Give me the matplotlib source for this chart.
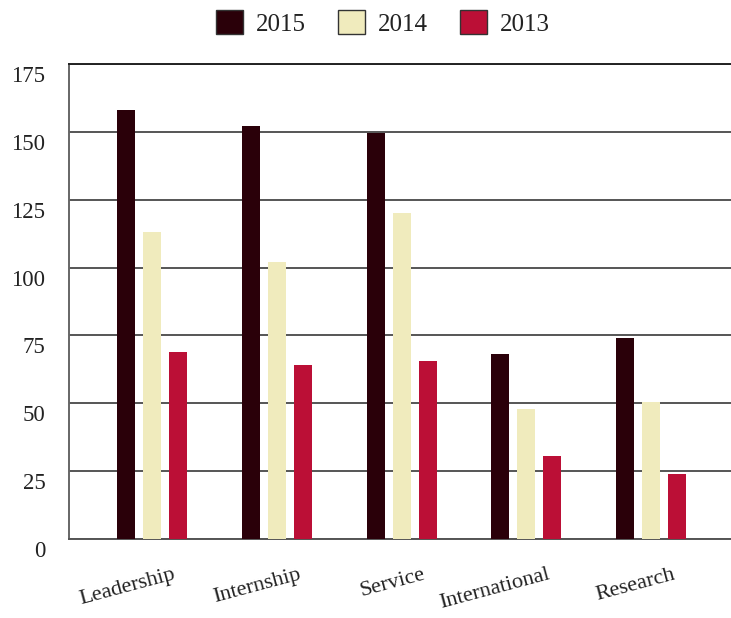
import matplotlib
matplotlib.use("Agg")
import matplotlib.pyplot as plt
import matplotlib.transforms as mtrans
import numpy as np

categories = ["Leadership", "Internship", "Service", "International", "Research"]
series_names = ["2015", "2014", "2013"]
v2015 = [158, 152, 149.5, 68, 74]
v2014 = [113, 102, 120, 48, 50.5]
v2013 = [69, 64, 65.5, 30.5, 24]
colors = ["#2a0009", "#f0ebbd", "#bb0f36"]
yticks = [0, 25, 50, 75, 100, 125, 150, 175]

plt.rcParams['font.family'] = ['Liberation Serif', 'DejaVu Serif']

fig = plt.figure(figsize=(7.31, 6.18), dpi=100)
ax = fig.add_axes([69/731, 79/618, 1 - 69/731, 475/618])

x = np.arange(len(categories))
w = 0.144
off = 0.208
for i, (vals, name, c) in enumerate(zip([v2015, v2014, v2013], series_names, colors)):
    ax.bar(x + (i - 1) * off, vals, width=w, color=c, label=name, zorder=3)

ax.set_ylim(0, 175)
ax.set_xlim(-0.665, 4.64)
ax.set_yticks(yticks)
ax.yaxis.grid(True, color="#555555", linewidth=1.4, zorder=0)
ax.set_axisbelow(True)
ax.tick_params(axis='y', length=0, pad=17, labelsize=16.5, labelcolor="#222222")
ax.tick_params(axis='x', length=0, pad=19, labelsize=16, labelcolor="#222222")
ax.set_xticks(x)
ax.set_xticklabels(categories, rotation=15, ha='right', va='top')
for lab in ax.get_xticklabels():
    lab.set_transform(lab.get_transform() + mtrans.ScaledTranslation(26/100, 0, fig.dpi_scale_trans))
for lab in ax.get_yticklabels():
    lab.set_transform(lab.get_transform() + mtrans.ScaledTranslation(0, -10/100, fig.dpi_scale_trans))

ax.spines['right'].set_visible(False)
ax.spines['top'].set_color("#222222")
ax.spines['top'].set_linewidth(1.4)
ax.spines['left'].set_color("#666666")
ax.spines['left'].set_linewidth(1.4)
ax.spines['bottom'].set_color("#555555")
ax.spines['bottom'].set_linewidth(1.4)

leg = fig.legend(loc='center', bbox_to_anchor=(383/731, 1 - 23/618), ncol=3, frameon=False,
                 fontsize=18, handlelength=1.08, handleheight=1.08, handletextpad=0.5,
                 columnspacing=1.3, labelcolor="#222222")
for h in leg.legend_handles:
    h.set_edgecolor("#333333")
    h.set_linewidth(1)

fig.savefig("out.png", dpi=100)
